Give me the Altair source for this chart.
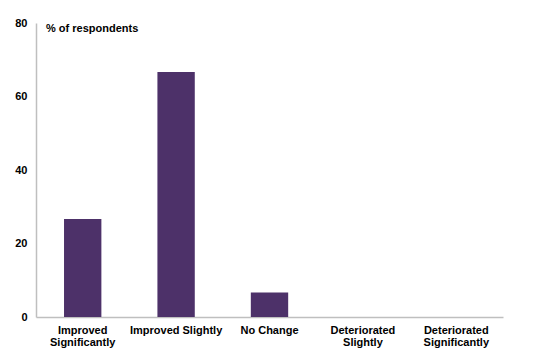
import altair as alt
import pandas as pd

categories = ["Improved|Significantly", "Improved Slightly", "No Change",
              "Deteriorated|Slightly", "Deteriorated|Significantly"]
values = [26.7, 66.7, 6.7, 0, 0]
y_ticks = [0, 20, 40, 60, 80]
unit_label = ["% of respondents"]

df = pd.DataFrame({"category": categories, "value": values})

bars = alt.Chart(df).mark_bar(color="#4D3169").encode(
    x=alt.X("category:N", sort=categories,
            scale=alt.Scale(paddingInner=0.6, paddingOuter=0.3),
            axis=alt.Axis(title=None, labelAngle=0, labelExpr="split(datum.label, '|')",
                          labelFont="Liberation Sans", labelFontSize=11, labelFontWeight="bold",
                          labelColor="#000000", ticks=False, domainColor="#BFBFBF",
                          domainWidth=1.5, labelPadding=7, labelLineHeight=12.5)),
    y=alt.Y("value:Q", scale=alt.Scale(domain=[0, 80], nice=False),
            axis=alt.Axis(title=None, values=y_ticks, grid=False, ticks=False,
                          labelFont="Liberation Sans", labelFontSize=11, labelFontWeight="bold",
                          labelColor="#000000", domainColor="#BFBFBF", domainWidth=1.5,
                          labelPadding=9)),
)

label = alt.Chart(pd.DataFrame({"t": unit_label})).mark_text(
    align="left", baseline="middle", font="Liberation Sans", fontSize=11,
    fontWeight="bold", color="#000000"
).encode(x=alt.value(10), y=alt.value(6), text="t:N")

chart = alt.layer(bars, label).properties(
    width=467, height=294,
    background="#FFFFFF",
    autosize=alt.AutoSizeParams(type="none"),
    padding={"left": 28, "top": 15, "right": 20, "bottom": 40},
).configure_view(stroke=None)

chart.save("out.html", embed_options={"renderer": "svg", "actions": False})
